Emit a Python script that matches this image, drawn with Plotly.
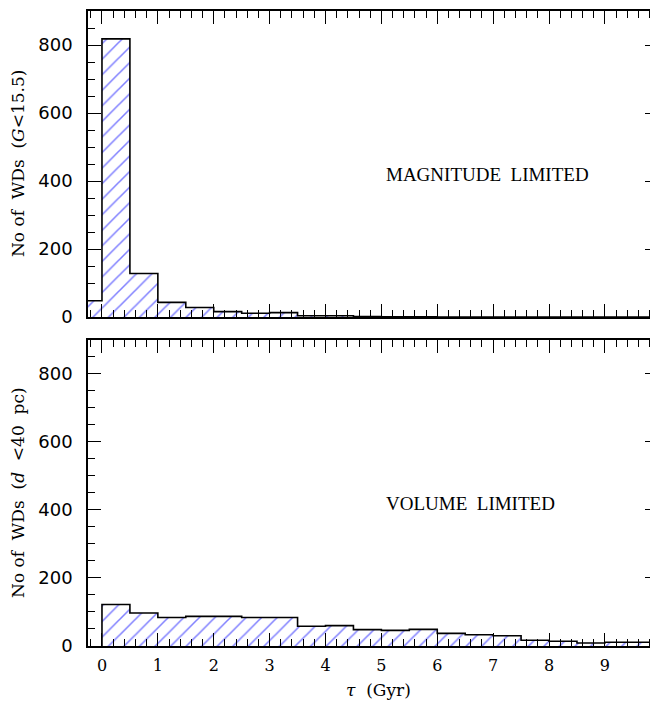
import plotly.graph_objects as go
from plotly.subplots import make_subplots

# Bin edges (Gyr), width 0.5
mag_left_edges = [-0.5, 0.0, 0.5, 1.0, 1.5, 2.0, 2.5, 3.0, 3.5, 4.0, 4.5, 5.0, 5.5, 6.0, 6.5, 7.0, 7.5, 8.0, 8.5, 9.0, 9.5]
mag_counts = [48, 818, 128, 43, 28, 16, 11, 13, 4, 4, 1.5, 1, 1, 0, 0, 0, 0, 0, 0, 0, 0]

vol_left_edges = [0.0, 0.5, 1.0, 1.5, 2.0, 2.5, 3.0, 3.5, 4.0, 4.5, 5.0, 5.5, 6.0, 6.5, 7.0, 7.5, 8.0, 8.5, 9.0, 9.5]
vol_counts = [122, 97, 84, 87, 87, 84, 84, 58, 60, 48, 46, 49, 37, 33, 30, 17, 14, 9, 11, 11]

bin_width = 0.5
x_tick_vals = [0, 1, 2, 3, 4, 5, 6, 7, 8, 9]
y_tick_vals = [0, 200, 400, 600, 800]

SERIF = "Liberation Serif"
WSERIF = "DejaVu Serif"

fig = make_subplots(rows=2, cols=1, shared_xaxes=False, vertical_spacing=0.0)


def add_hist(edges, counts, row):
    centers = [e + bin_width / 2 for e in edges]
    fig.add_trace(go.Bar(
        x=centers, y=counts, width=[bin_width] * len(counts),
        marker=dict(color="white", line=dict(width=0),
                    pattern=dict(shape="/", fgcolor="#0000ff", bgcolor="white",
                                 size=11, solidity=0.14, fillmode="overlay")),
        showlegend=False, hoverinfo="skip"), row=row, col=1)
    xs = [edges[0], edges[0]] + [e for e in edges[1:]] + [edges[-1] + bin_width]
    ys = [0, counts[0]] + counts[1:] + [0]
    fig.add_trace(go.Scatter(x=xs, y=ys, mode="lines", line=dict(color="black", width=1.6, shape="hv"),
                             showlegend=False, hoverinfo="skip", cliponaxis=True), row=row, col=1)


add_hist(mag_left_edges, mag_counts, 1)
add_hist(vol_left_edges, vol_counts, 2)

axis_common = dict(showline=True, linecolor="black", linewidth=1.5, mirror="allticks",
                   ticks="inside", tickcolor="black", tickwidth=1.2, ticklen=13,
                   showgrid=False, zeroline=False)

for r, dom in [(1, [330 / 637, 1.0]), (2, [0.0, 307 / 637])]:
    fig.update_xaxes(range=[-0.25, 9.95], tickvals=x_tick_vals,
                     minor=dict(dtick=0.2, tick0=0, ticks="inside", ticklen=7, tickwidth=1.2, tickcolor="black"),
                     showticklabels=(r == 2),
                     tickfont=dict(family=WSERIF, size=16, color="black"),
                     ticklabelstandoff=4,
                     row=r, col=1, **axis_common)
    fig.update_yaxes(range=[0, 900], tickvals=y_tick_vals, domain=dom,
                     minor=dict(dtick=50, tick0=0, ticks="inside", ticklen=7, tickwidth=1.2, tickcolor="black"),
                     tickfont=dict(family="DejaVu Sans", size=18, color="black"),
                     ticklabelstandoff=10,
                     row=r, col=1, **axis_common)

fig.add_annotation(x=5.05, y=418, xref="x", yref="y", text="MAGNITUDE&nbsp; LIMITED",
                   showarrow=False, xanchor="left", yanchor="middle",
                   font=dict(family=SERIF, size=19, color="black"))
fig.add_annotation(x=5.05, y=418, xref="x2", yref="y2", text="VOLUME&nbsp; LIMITED",
                   showarrow=False, xanchor="left", yanchor="middle",
                   font=dict(family=SERIF, size=19, color="black"))

fig.add_annotation(x=0, y=(330 / 637 + 1) / 2, xref="paper", yref="paper", xshift=-70,
                   text="No of&nbsp; WDs&nbsp; (<i>G</i>&lt;15.5)", textangle=-90,
                   showarrow=False, xanchor="center", yanchor="middle",
                   font=dict(family=WSERIF, size=17, color="black"))
fig.add_annotation(x=0, y=(307 / 637) / 2, xref="paper", yref="paper", xshift=-70,
                   text="No of&nbsp; WDs&nbsp; (<i>d</i>&nbsp; &lt;40&nbsp; pc)", textangle=-90,
                   showarrow=False, xanchor="center", yanchor="middle",
                   font=dict(family=WSERIF, size=17, color="black"))
fig.add_annotation(x=(0.25 + 4.95) / 10.2, y=0, xref="paper", yref="paper", yshift=-44,
                   text="<i>τ</i>&nbsp; (Gyr)", showarrow=False, xanchor="center", yanchor="middle",
                   font=dict(family=WSERIF, size=17, color="black"))

fig.update_layout(width=658, height=704, margin=dict(l=80, r=8, t=1, b=66),
                  plot_bgcolor="white", paper_bgcolor="white", bargap=0, barmode="overlay")

fig.write_html("out.html")
